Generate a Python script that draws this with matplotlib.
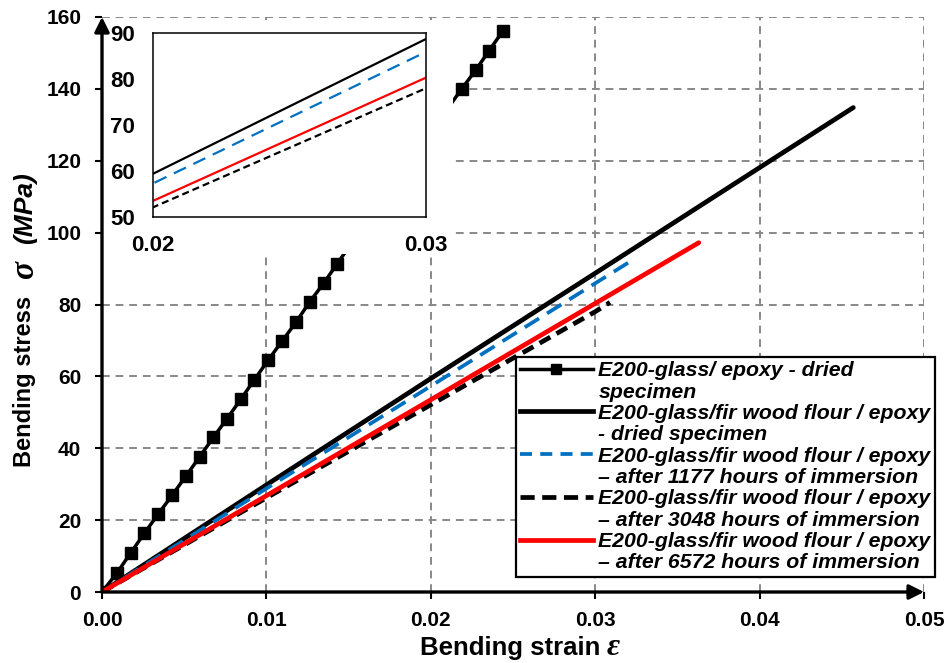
import matplotlib
matplotlib.use('Agg')
import matplotlib.pyplot as plt
from matplotlib.lines import Line2D
from matplotlib.patches import Rectangle
import numpy as np

plt.rcParams['font.family'] = ['Liberation Sans', 'DejaVu Sans']
plt.rcParams['font.weight'] = 'bold'
plt.rcParams['mathtext.fontset'] = 'custom'
plt.rcParams['mathtext.it'] = 'Liberation Serif:bold:italic'
plt.rcParams['mathtext.rm'] = 'Liberation Sans:bold'

# E200-glass / epoxy - dried (markers hidden under the inset are not read)
glass_x = [0, 0.00091, 0.00175, 0.00257, 0.00342, 0.00428, 0.00511, 0.00594, 0.00677,
           0.0076, 0.00844, 0.00926, 0.01012, 0.01097, 0.01182, 0.01263, 0.0135, 0.01431,
           0.02188, 0.02273, 0.02354, 0.02437]
glass_y = [0, 5.3, 10.9, 16.3, 21.7, 27.0, 32.3, 37.6, 43.0, 48.2, 53.6, 59.0, 64.6,
           69.9, 75.2, 80.7, 86.0, 91.4, 140.0, 145.2, 150.6, 156.0]

# E200-glass / fir wood flour / epoxy
dried_x = [0, 0.01, 0.02, 0.03, 0.04, 0.0457]
dried_y = [0, 29.8, 59.4, 88.7, 118.1, 134.8]
h1177_x = [0, 0.01, 0.02, 0.03, 0.032]
h1177_y = [0, 28.8, 57.3, 85.9, 91.6]
h3048_x = [0, 0.01, 0.02, 0.03, 0.0309]
h3048_y = [0, 26.2, 52.1, 78.0, 80.6]
h6572_x = [0, 0.01, 0.02, 0.03, 0.0363]
h6572_y = [0, 26.8, 53.5, 80.3, 97.2]

labels = ['E200-glass/ epoxy - dried', 'specimen',
          'E200-glass/fir wood flour / epoxy', '- dried specimen',
          'E200-glass/fir wood flour / epoxy', '\u2013 after 1177 hours of immersion',
          'E200-glass/fir wood flour / epoxy', '\u2013 after 3048 hours of immersion',
          'E200-glass/fir wood flour / epoxy', '\u2013 after 6572 hours of immersion']

blue = '#0070C0'
red = '#FF0000'

fig = plt.figure(figsize=(9.51, 6.63), dpi=100)
ax = fig.add_axes([102/951, 1-592/663, 822/951, 575/663])

ax.plot(glass_x, glass_y, color='black', lw=2.5, marker='s', ms=8, zorder=2)
ax.plot(dried_x, dried_y, color='black', lw=3.4, solid_capstyle='round', zorder=2)
ax.plot(h1177_x, h1177_y, color=blue, lw=2.7, dashes=(4.5, 2.5), zorder=2)
ax.plot(h3048_x, h3048_y, color='black', lw=3.4, dashes=(2.6, 1.5), zorder=2)
ax.plot(h6572_x, h6572_y, color=red, lw=3.4, solid_capstyle='round', zorder=2)

ax.set_xlim(0, 0.05)
ax.set_ylim(0, 160)
ax.set_xticks([0, 0.01, 0.02, 0.03, 0.04, 0.05])
ax.set_xticklabels(['0.00', '0.01', '0.02', '0.03', '0.04', '0.05'])
ax.set_yticks(np.arange(0, 161, 20))
ax.grid(True, color='#888888', lw=1.4, linestyle=(0, (4, 3)))
for s in ax.spines.values():
    s.set_visible(False)
ax.tick_params(direction='out', length=5, width=1.5, labelsize=15)
ax.tick_params(axis='x', pad=9)
ax.tick_params(axis='y', pad=10)

# white area behind the inset
ax.add_patch(Rectangle((0, 94), 0.02135, 65.3, facecolor='white', edgecolor='none', zorder=2.2))

# axis arrows
for tip in [(0, 1), (1, 0)]:
    ax.annotate('', xy=tip, xytext=(0, 0), xycoords='axes fraction',
                arrowprops=dict(arrowstyle='-|>', lw=2.4, color='black', mutation_scale=22,
                                shrinkA=0, shrinkB=0), zorder=5)

# axis titles
fig.text(600/951, 1-655/663, 'Bending strain', fontsize=18.5, fontweight='bold',
         ha='right', va='baseline')
fig.text(606/951, 1-655/663, r'$\varepsilon$', fontsize=23, ha='left', va='baseline')
fig.text(25/951, 1-381/663, 'Bending stress', fontsize=17, fontweight='bold',
         rotation=90, ha='center', va='center')
fig.text(26/951, 1-270/663, r'$\sigma$', fontsize=24, rotation=90, ha='center', va='center')
fig.text(25/951, 1-208/663, '(MPa)', fontsize=19, fontweight='bold', fontstyle='italic',
         rotation=90, ha='center', va='center')

# legend, one entry per text line so the handle sits on the first line
blank = Line2D([], [], color='none')
handles = [Line2D([], [], color='black', lw=2.5, marker='s', ms=6.5), blank,
           Line2D([], [], color='black', lw=3.4), blank,
           Line2D([], [], color=blue, lw=2.7, dashes=(3.2, 2.2)), blank,
           Line2D([], [], color='black', lw=3.4, dashes=(3, 1.6)), blank,
           Line2D([], [], color=red, lw=3.4), blank]
leg = fig.legend(handles, labels, loc='upper left', bbox_to_anchor=(516/951, 1-357/663),
                 prop={'size': 15.3, 'weight': 'bold', 'style': 'italic'},
                 handlelength=3.4, handletextpad=0.28, labelspacing=0.11, borderpad=0.2,
                 borderaxespad=0, fancybox=False, framealpha=1, edgecolor='black',
                 numpoints=1)
leg.get_frame().set_linewidth(1.6)

# inset
axin = fig.add_axes([153/951, 1-217/663, 273/951, 184/663])
axin.plot(dried_x, dried_y, color='black', lw=1.6)
axin.plot(h1177_x, h1177_y, color=blue, lw=1.6, dashes=(6, 3.7))
axin.plot(h3048_x, h3048_y, color='black', lw=1.6, dashes=(3.2, 1.8))
axin.plot(h6572_x, h6572_y, color=red, lw=1.6)
axin.set_xlim(0.02, 0.03)
axin.set_ylim(50, 90)
axin.set_xticks([0.02, 0.03])
axin.set_xticklabels(['0.02', '0.03'])
axin.set_yticks([50, 60, 70, 80, 90])
axin.tick_params(length=0, labelsize=16, pad=13)
for s in axin.spines.values():
    s.set_linewidth(1.1)

fig.savefig('out.png', dpi=100)
